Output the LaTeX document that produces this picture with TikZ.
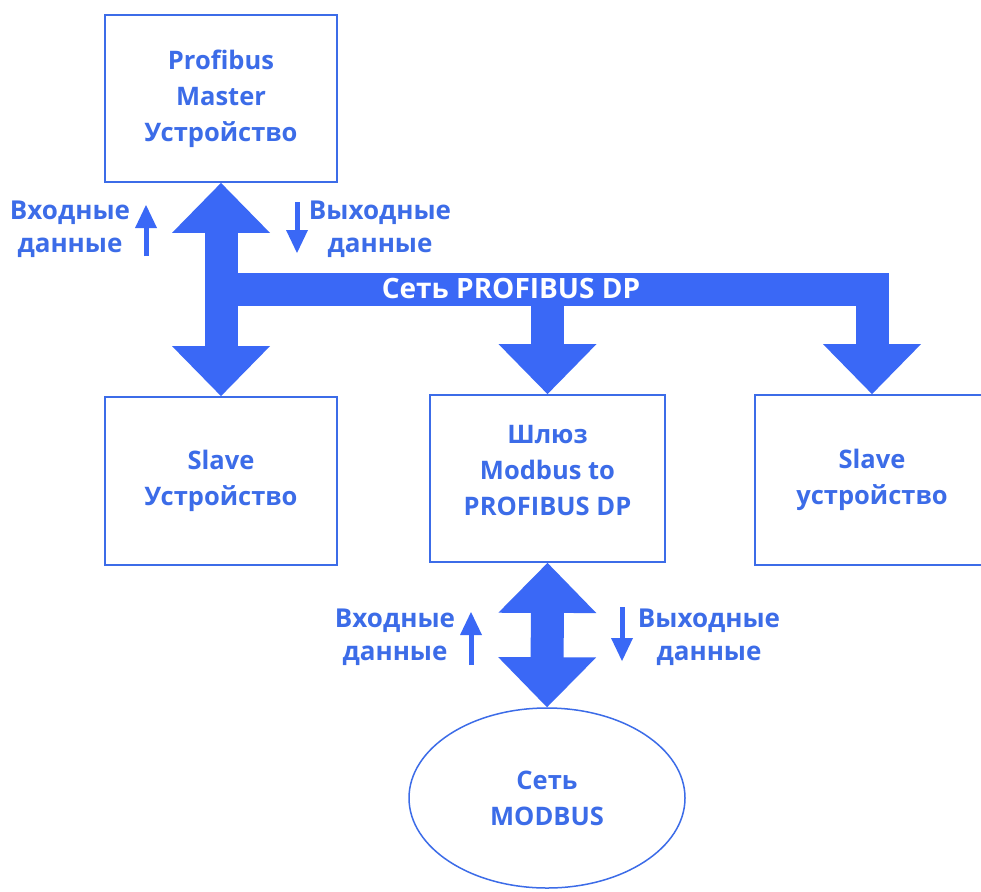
\documentclass[tikz,border=0pt]{standalone}
\usepackage{fontspec}
\setmainfont{Open Sans}
\usetikzlibrary{arrows.meta,shapes.geometric,calc}
\definecolor{netblue}{RGB}{58,104,246}
\definecolor{txtblue}{RGB}{60,108,232}
\tikzset{
  devbox/.style={draw=txtblue,line width=1.8pt,minimum width=232pt,minimum height=167pt,align=center,text=txtblue,font=\bfseries\fontsize{25.5}{36}\selectfont},
  datalbl/.style={text=txtblue,align=center,font=\bfseries\fontsize{26}{33}\selectfont},
  fattip/.tip={Triangle[length=50pt,width=98pt,line width=0pt]},
  fatline/.style={draw=netblue,line width=33pt,line join=miter,line cap=rect},
  smallarrow/.style={draw=netblue,line width=5pt,-{Triangle[length=23pt,width=22pt,line width=0pt]}}
}
\begin{document}
\begin{tikzpicture}[x=1pt,y=-1pt]
\useasboundingbox[fill=white] (0,0) rectangle (981,891);
% devices
\node[devbox] (master) at (221,98.5) {Profibus\\Master\\Устройство};
\node[devbox,minimum height=168pt] (slaveL) at (221,481) {Slave\\Устройство};
\node[devbox,minimum width=235pt,text depth=16pt] (gate) at (547.5,478.5) {Шлюз\\Modbus to\\PROFIBUS DP};
\node[devbox,minimum width=234pt,minimum height=170pt] (slaveR) at (872,480) {Slave\\устройство};
\node[devbox,ellipse,line width=1.5pt,minimum width=276pt,minimum height=180pt,text depth=-10pt] (modbus) at (547,798) {Сеть\\MODBUS};
% PROFIBUS DP bus
\coordinate (busL) at (221,289);
\coordinate (busR) at (slaveR.north |- busL);
\draw[fatline,fattip-fattip] (master.south) -- (slaveL.north);
\draw[fatline,-fattip] (busL) -- (busR) -- (slaveR.north);
\draw[fatline,-fattip] (gate.north |- busL) -- (gate.north);
\node[text=white,font=\bfseries\fontsize{28}{30}\selectfont] (buslbl) at (511,288) {Сеть PROFIBUS DP};
% modbus link
\draw[fatline,fattip-fattip] (gate.south) -- (modbus.north);
% data directions
\node[datalbl] (inTop) at (70,229) {Входные\\данные};
\node[datalbl] (outTop) at (380,229) {Выходные\\данные};
\node[datalbl] (inBot) at (395,637) {Входные\\данные};
\node[datalbl] (outBot) at (709,637) {Выходные\\данные};
\coordinate (inTopA) at (146,256); \coordinate (inTopB) at (146,205);
\coordinate (outTopA) at (297,202); \coordinate (outTopB) at (297,253);
\coordinate (inBotA) at (471,665); \coordinate (inBotB) at (471,612);
\coordinate (outBotA) at (622,607); \coordinate (outBotB) at (622,661);
\draw[smallarrow] (inTopA) -- (inTopB);
\draw[smallarrow] (outTopA) -- (outTopB);
\draw[smallarrow] (inBotA) -- (inBotB);
\draw[smallarrow] (outBotA) -- (outBotB);
\end{tikzpicture}
\end{document}
